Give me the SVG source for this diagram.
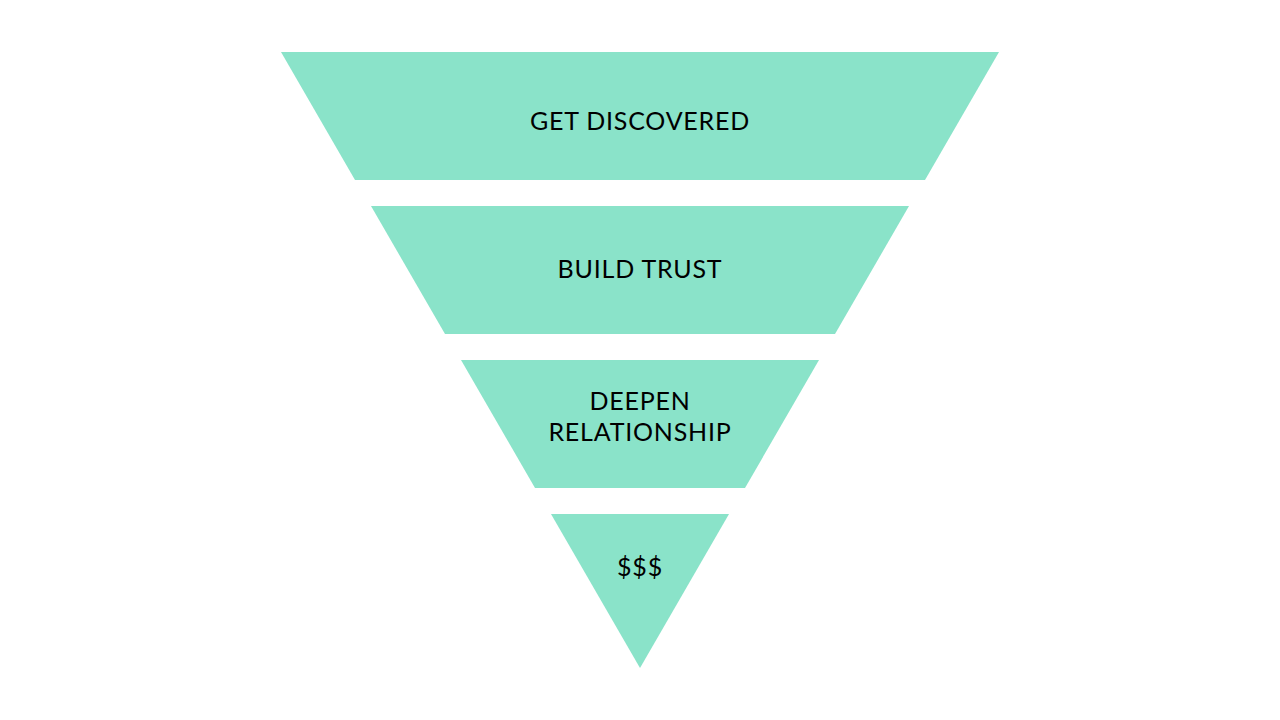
<svg xmlns="http://www.w3.org/2000/svg" width="1280" height="720" viewBox="0 0 1280 720">
<style>
.f{fill:#8ae3c9}
.t{font-family:Lato,"Noto Sans",sans-serif;font-size:25px;fill:#000;text-anchor:middle;letter-spacing:0.8px}
</style>
<rect width="1280" height="720" fill="#fff"/>
<g id="stage1"><polygon class="f" points="281,52 999,52 925,180 355,180"/><text class="t" x="640" y="130">GET DISCOVERED</text></g>
<g id="stage2"><polygon class="f" points="371,206 909,206 835,334 445,334"/><text class="t" x="640" y="278">BUILD TRUST</text></g>
<g id="stage3"><polygon class="f" points="461,360 819,360 745,488 535,488"/><text class="t" x="640" y="410">DEEPEN</text><text class="t" x="640" y="441">RELATIONSHIP</text></g>
<g id="stage4"><polygon class="f" points="551,514 729,514 640,668"/><text class="t" x="640" y="576">$$$</text></g>
<g id="connectors"/>
</svg>
